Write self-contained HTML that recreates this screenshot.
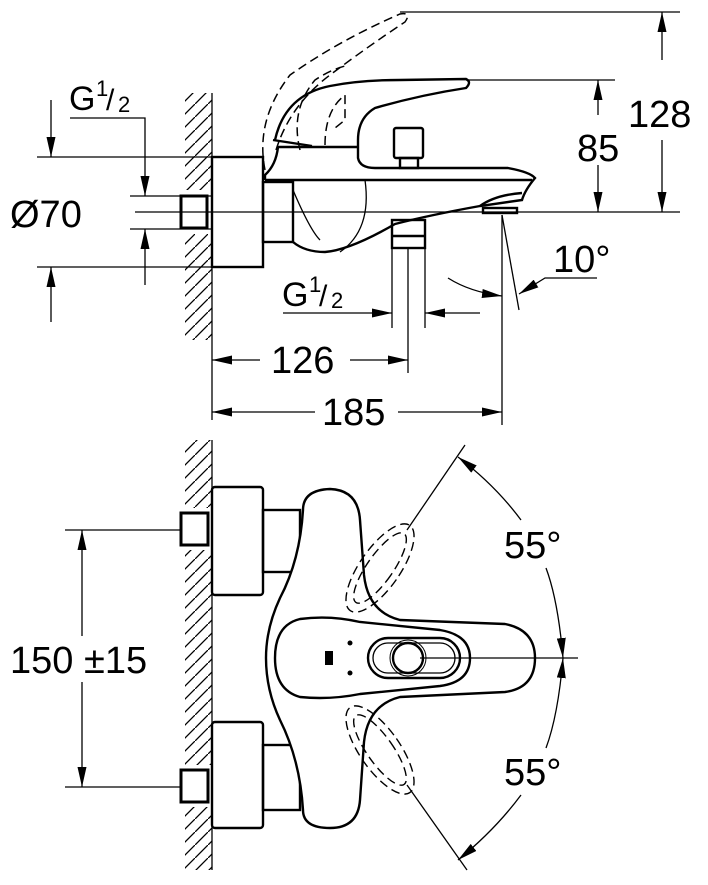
<!DOCTYPE html>
<html><head><meta charset="utf-8"><style>
html,body{margin:0;padding:0;background:#fff}
svg{display:block}
text{font-family:"Liberation Sans",sans-serif;fill:#000}
</style></head><body>
<svg width="708" height="885" viewBox="0 0 708 885" xmlns="http://www.w3.org/2000/svg">
<defs>
<marker id="a" viewBox="0 0 20 9" refX="20" refY="4.5" markerWidth="20" markerHeight="9" markerUnits="userSpaceOnUse" orient="auto"><path d="M0,0L20,4.5L0,9z" fill="#000"/></marker>
<pattern id="h" width="13" height="13" patternUnits="userSpaceOnUse"><path d="M-1,14L14,-1" stroke="#000" stroke-width="1.3"/></pattern>
</defs>
<g fill="none" stroke="#000" stroke-width="1.3">
<!-- TOP VIEW -->
<rect x="185" y="93" width="27" height="247" fill="url(#h)" stroke="none"/>
<rect x="178" y="190" width="34" height="44" fill="#fff" stroke="none"/>
<line x1="212" y1="93" x2="212" y2="420"/>
<line x1="37" y1="157" x2="212" y2="157"/>
<line x1="37" y1="267" x2="212" y2="267"/>
<line x1="130" y1="196" x2="212" y2="196"/>
<line x1="130" y1="229" x2="212" y2="229"/>
<line x1="135" y1="212" x2="680" y2="212"/>
<line x1="51" y1="100" x2="51" y2="157" marker-end="url(#a)"/>
<line x1="51" y1="322" x2="51" y2="267" marker-end="url(#a)"/>
<polyline points="70,118 145,118 145,196" marker-end="url(#a)"/>
<line x1="145" y1="285" x2="145" y2="229" marker-end="url(#a)"/>
<rect x="181" y="196" width="26" height="32" stroke-width="3"/>
<g stroke-width="2.4">
<rect x="212" y="157" width="51" height="110"/>
<rect x="263" y="182" width="30" height="60"/>
<path d="M265,180 L265,175 Q276,165 278,147 L357,147"/>
<path d="M275,140 Q285,95 330,86 Q360,80 400,80 L466,79 Q472,82 466,88 Q420,95 375,108 Q358,118 358,140 L358,158 Q360,168 375,168 L508,168 Q530,172 535,178 Q525,190 522,200 L480,206 Q430,215 395,224 Q350,250 325,252 Q305,252 293,242"/>
<path d="M273,140 L312,146"/>
<line x1="265" y1="180" x2="532" y2="180"/>
<rect x="394" y="128" width="29" height="30" rx="2"/>
<rect x="400" y="158" width="18" height="10"/>
<path d="M480,206 Q495,195 522,193"/>
<rect x="483" y="208" width="34" height="5"/>
<rect x="392" y="220" width="33" height="28"/>
<line x1="392" y1="236" x2="425" y2="236"/>
</g>
<path d="M293,190 Q310,230 320,240"/>
<path d="M365,180 Q372,230 340,252"/>
<path d="M265,170 Q255,120 290,75 Q340,40 400,14 Q412,12 405,22 Q370,45 330,75 Q290,105 276,150" stroke-dasharray="9,5" stroke-width="1.5"/>
<path d="M300,150 Q290,110 315,80 Q330,70 345,66" stroke-dasharray="9,5" stroke-width="1.5"/>
<path d="M325,145 Q325,110 345,95 L345,120 L335,128" stroke-dasharray="9,5" stroke-width="1.5"/>
<line x1="392" y1="248" x2="392" y2="328"/>
<line x1="425" y1="248" x2="425" y2="328"/>
<line x1="408" y1="248" x2="408" y2="373"/>
<line x1="502" y1="215" x2="502" y2="425"/>
<line x1="502" y1="215" x2="519" y2="310"/>
<line x1="400" y1="12" x2="680" y2="12"/>
<line x1="466" y1="80" x2="615" y2="80"/>
<line x1="662" y1="60" x2="662" y2="12" marker-end="url(#a)"/>
<line x1="662" y1="140" x2="662" y2="212" marker-end="url(#a)"/>
<line x1="598" y1="115" x2="598" y2="80" marker-end="url(#a)"/>
<line x1="598" y1="165" x2="598" y2="212" marker-end="url(#a)"/>
<line x1="283" y1="313" x2="392" y2="313" marker-end="url(#a)"/>
<line x1="480" y1="313" x2="425" y2="313" marker-end="url(#a)"/>
<line x1="260" y1="360" x2="212" y2="360" marker-end="url(#a)"/>
<line x1="350" y1="360" x2="408" y2="360" marker-end="url(#a)"/>
<line x1="315" y1="412" x2="212" y2="412" marker-end="url(#a)"/>
<line x1="398" y1="412" x2="502" y2="412" marker-end="url(#a)"/>
<path d="M448,278 Q470,292 502,296" marker-end="url(#a)"/>
<polyline points="597,278 545,278 519,294" marker-end="url(#a)"/>
<!-- BOTTOM VIEW -->
<rect x="185" y="440" width="27" height="430" fill="url(#h)" stroke="none"/>
<rect x="178" y="508" width="34" height="42" fill="#fff" stroke="none"/>
<rect x="178" y="765" width="34" height="42" fill="#fff" stroke="none"/>
<line x1="212" y1="440" x2="212" y2="870"/>
<line x1="65" y1="530" x2="181" y2="530"/>
<line x1="65" y1="787" x2="181" y2="787"/>
<line x1="82" y1="636" x2="82" y2="530" marker-end="url(#a)"/>
<line x1="82" y1="682" x2="82" y2="787" marker-end="url(#a)"/>
<g stroke-width="2.4">
<rect x="181" y="513" width="27" height="32" stroke-width="3"/>
<rect x="181" y="770" width="27" height="32" stroke-width="3"/>
<rect x="212" y="487" width="51" height="108" rx="3"/>
<rect x="212" y="722" width="51" height="106" rx="3"/>
<rect x="263" y="510" width="37" height="62"/>
<rect x="263" y="745" width="37" height="65"/>
<path d="M303,510 Q303,490 330,489 Q358,490 360,520 L364,575 Q368,612 400,620 L505,624 Q535,630 535,658 Q535,688 505,692 L400,697 Q368,705 364,742 L360,800 Q358,828 330,828 Q303,828 303,810 Q300,760 280,720 Q266,690 266,658 Q266,628 280,598 Q300,560 303,510Z" fill="#fff"/>
<path d="M275,658 Q275,625 300,619 Q330,615 360,622 L440,630 Q470,635 470,658 Q470,682 440,686 L360,694 Q330,700 300,697 Q275,690 275,658Z"/>
<rect x="368" y="638" width="92" height="40" rx="20"/>
<rect x="373" y="643" width="82" height="30" rx="15" stroke-width="1.3"/>
<circle cx="408" cy="658" r="15"/>
</g>
<circle cx="408" cy="658" r="18" stroke-width="1"/>
<rect x="325" y="651" width="8" height="14" fill="#000" stroke="none"/>
<circle cx="350" cy="643" r="2.5" fill="#000" stroke="none"/>
<circle cx="350" cy="673" r="2.5" fill="#000" stroke="none"/>
<g stroke-dasharray="9,5" stroke-width="1.4">
<ellipse cx="380" cy="568" rx="20" ry="52" transform="rotate(35 380 568)"/>
<ellipse cx="380" cy="568" rx="13" ry="42" transform="rotate(35 380 568)"/>
<ellipse cx="380" cy="750" rx="20" ry="52" transform="rotate(-35 380 750)"/>
<ellipse cx="380" cy="750" rx="13" ry="42" transform="rotate(-35 380 750)"/>
</g>
<line x1="420" y1="658" x2="578" y2="658"/>
<line x1="407" y1="530" x2="465" y2="445"/>
<line x1="407" y1="785" x2="467" y2="870"/>
<path d="M521,520 Q495,485 458,457" marker-end="url(#a)"/>
<path d="M546,568 Q558,600 563,658" marker-end="url(#a)"/>
<path d="M521,795 Q495,830 458,860" marker-end="url(#a)"/>
<path d="M546,748 Q558,716 563,658" marker-end="url(#a)"/>
</g>
<g font-size="38">
<text x="69" y="110" font-size="34">G</text><text x="96" y="96" font-size="22">1</text><text x="106" y="110" font-size="30">/</text><text x="118" y="112" font-size="22">2</text>
<text x="10" y="227">Ø70</text>
<text x="628" y="127">128</text>
<text x="577" y="161">85</text>
<text x="282" y="306" font-size="34">G</text><text x="309" y="292" font-size="22">1</text><text x="319" y="306" font-size="30">/</text><text x="331" y="308" font-size="22">2</text>
<text x="271" y="373">126</text>
<text x="322" y="425">185</text>
<text x="553" y="272">10°</text>
<text x="10" y="673">150 ±15</text>
<text x="504" y="558">55°</text>
<text x="504" y="785">55°</text>
</g>
</svg>
</body></html>
